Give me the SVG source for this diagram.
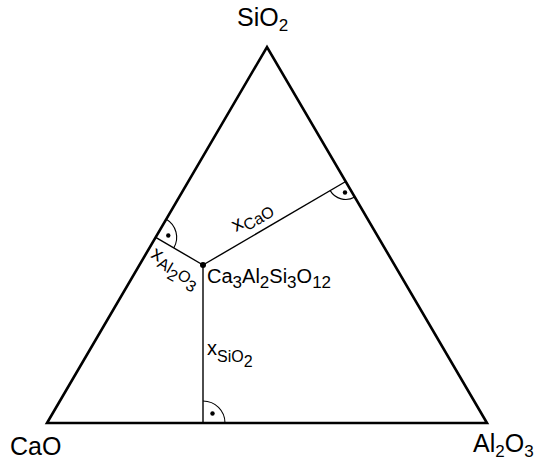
<svg xmlns="http://www.w3.org/2000/svg" width="542" height="461" viewBox="0 0 542 461">
<style>
text{font-family:"Liberation Sans",Arial,sans-serif;fill:#000}
.v{font-size:25px}
.vs{font-size:17px}
.c{font-size:20px}
.cs{font-size:17px}
.x{font-size:20px}
.xs{font-size:16px}
.edge{fill:none;stroke:#000;stroke-width:2.6;stroke-linejoin:miter}
.conn{fill:none;stroke:#000;stroke-width:1.4}
.arc{fill:none;stroke:#000;stroke-width:1.1}
</style>
<rect width="542" height="461" fill="#fff"/>
<g id="triangle">
<polygon class="edge" points="47,423 487,423 267,47"/>
</g>
<g id="connectors">
<line class="conn" x1="203" y1="265" x2="203" y2="423"/>
<line class="conn" x1="203" y1="265" x2="155.7" y2="237.3"/>
<line class="conn" x1="203" y1="265" x2="345.7" y2="181.5"/>
<path class="arc" d="M203,401 A22,22 0 0 1 225,423"/>
<circle cx="212.5" cy="413.5" r="2.2"/>
<path class="arc" d="M166.3,219.2 A21,21 0 0 1 173.8,247.9"/>
<circle cx="168.3" cy="235.5" r="2.2"/>
<path class="arc" d="M354.8,197.0 A18,18 0 0 1 330.2,190.6"/>
<circle cx="345" cy="192.5" r="2.2"/>
<text class="x" transform="translate(236,232) rotate(-30)">x<tspan class="xs" dy="5">CaO</tspan></text>
<text class="x" transform="translate(150,257) rotate(30)">x<tspan class="xs" dy="5">Al</tspan><tspan class="xs" dy="5">2</tspan><tspan class="xs" dy="-5">O</tspan><tspan class="xs" dy="5">3</tspan></text>
<text class="x" x="207" y="355">x<tspan class="xs" dy="7">SiO</tspan><tspan class="xs" dy="5">2</tspan></text>
</g>
<g id="node-SiO2">
<text class="v" x="237" y="26">SiO<tspan class="vs" dy="5">2</tspan></text>
</g>
<g id="node-CaO">
<text class="v" x="10" y="455">CaO</text>
</g>
<g id="node-Al2O3">
<text class="v" x="473" y="452">Al<tspan class="vs" dy="5">2</tspan><tspan dy="-5">O</tspan><tspan class="vs" dy="5">3</tspan></text>
</g>
<g id="node-Ca3Al2Si3O12">
<circle cx="203" cy="265" r="3"/>
<text class="c" x="207" y="283">Ca<tspan class="cs" dy="5">3</tspan><tspan dy="-5">Al</tspan><tspan class="cs" dy="5">2</tspan><tspan dy="-5">Si</tspan><tspan class="cs" dy="5">3</tspan><tspan dy="-5">O</tspan><tspan class="cs" dy="5">12</tspan></text>
</g>
</svg>
